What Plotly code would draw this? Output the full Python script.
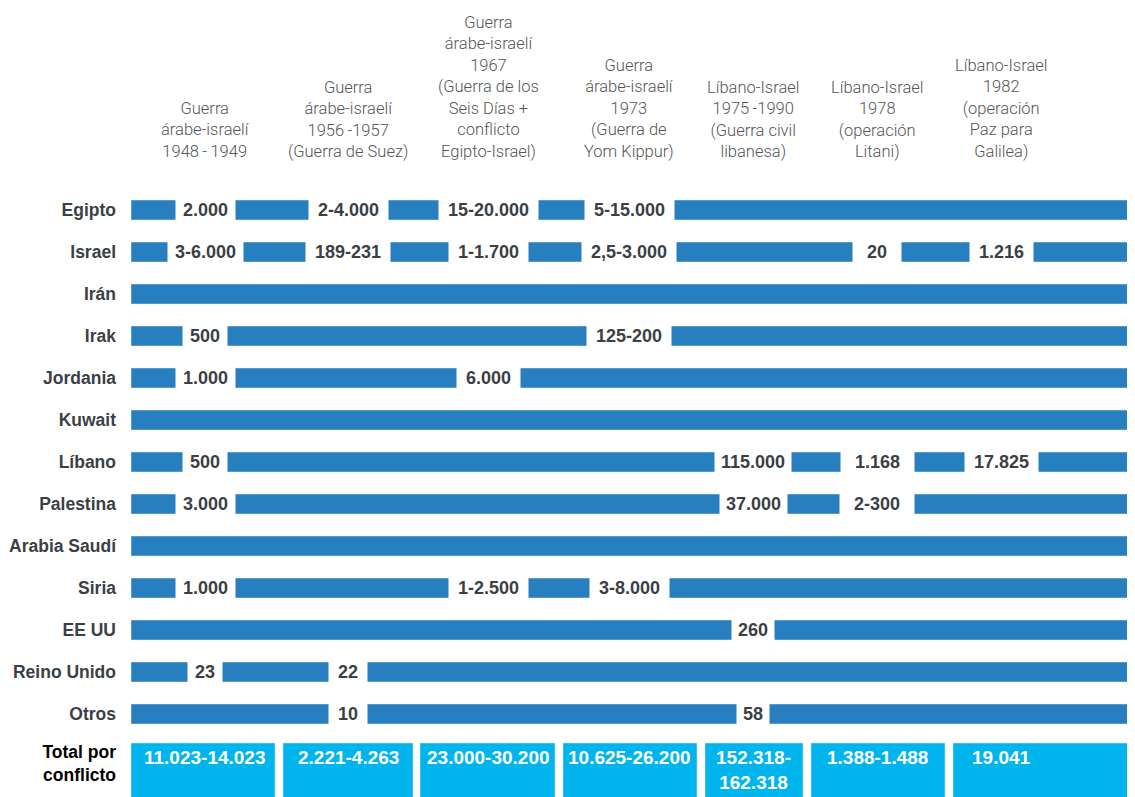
import plotly.graph_objects as go

# victims per country and conflict (text as printed in the source table)
countries = ["Egipto", "Israel", "Irán", "Irak", "Jordania", "Kuwait", "Líbano",
             "Palestina", "Arabia Saudí", "Siria", "EE UU", "Reino Unido", "Otros"]

conflicts = [
    "Guerra<br>árabe-israelí<br>1948\u2009-\u20091949",
    "Guerra<br>árabe-israelí<br>1956\u2009-1957<br>(Guerra de Suez)",
    "Guerra<br>árabe-israelí<br>1967<br>(Guerra de los<br>Seis Días +<br>conflicto<br>Egipto-Israel)",
    "Guerra<br>árabe-israelí<br>1973<br>(Guerra de<br>Yom Kippur)",
    "Líbano-Israel<br>1975\u2009-1990<br>(Guerra civil<br>libanesa)",
    "Líbano-Israel<br>1978<br>(operación<br>Litani)",
    "Líbano-Israel<br>1982<br>(operación<br>Paz para<br>Galilea)",
]

war_1948 = ["2.000", "3-6.000", "", "500", "1.000", "", "500", "3.000", "", "1.000", "", "23", ""]
war_1956 = ["2-4.000", "189-231", "", "", "", "", "", "", "", "", "", "22", "10"]
war_1967 = ["15-20.000", "1-1.700", "", "", "6.000", "", "", "", "", "1-2.500", "", "", ""]
war_1973 = ["5-15.000", "2,5-3.000", "", "125-200", "", "", "", "", "", "3-8.000", "", "", ""]
war_1975 = ["", "", "", "", "", "", "115.000", "37.000", "", "", "260", "", "58"]
war_1978 = ["", "20", "", "", "", "", "1.168", "2-300", "", "", "", "", ""]
war_1982 = ["", "1.216", "", "", "", "", "17.825", "", "", "", "", "", ""]

totals = ["11.023-14.023", "2.221-4.263", "23.000-30.200", "10.625-26.200",
          "152.318-<br>162.318", "1.388-1.488", "19.041"]

columns = [war_1948, war_1956, war_1967, war_1973, war_1975, war_1978, war_1982]

# layout geometry (x in px from the left edge of the table)
col_center = [74, 217, 357, 498, 622, 746, 870]
col_edges = [(0, 144), (152, 282), (289, 424), (432, 566), (574, 672), (680, 814), (822, 1010)]
col_pad = [7, 9, 9, 9, 6, 14, 9]

BLUE = "#277fbf"
CYAN = "#00b5ee"
DARK = "#3b3f46"
FONT = "Liberation Sans"

rows = list(range(len(countries)))
total_y = 13.4

fig = go.Figure()
fig.add_trace(go.Bar(
    y=rows, x=[1010] * len(rows), base=0, orientation="h", width=0.476,
    marker_color=BLUE, hoverinfo="skip", showlegend=False,
))
fig.add_trace(go.Bar(
    y=[total_y] * len(totals), x=[r - l for l, r in col_edges], base=[l for l, r in col_edges],
    orientation="h", width=1.42, marker_color=CYAN, hoverinfo="skip", showlegend=False,
))

annotations = []
for j, col in enumerate(columns):
    for i, txt in enumerate(col):
        if txt:
            annotations.append(dict(
                x=col_center[j], y=i, text=txt, showarrow=False,
                bgcolor="white", borderpad=col_pad[j],
                font=dict(family=FONT, size=18, color=DARK, weight="bold"),
            ))
    annotations.append(dict(
        x=col_center[j], y=-1.15, yanchor="bottom", text=conflicts[j], showarrow=False,
        borderpad=0,
        font=dict(family="Roboto", size=16.5, color="#555555", weight=300),
    ))
    annotations.append(dict(
        x=col_center[j], y=12.74, yanchor="top", text=totals[j], showarrow=False,
        font=dict(family=FONT, size=19, color="white", weight="bold"),
    ))

# the page body adds an 8px offset, so the figure is 8px smaller
fig.update_layout(
    width=1127, height=789,
    margin=dict(l=123, r=0, t=0, b=0),
    plot_bgcolor="white", paper_bgcolor="white",
    barmode="overlay",
    annotations=annotations,
    xaxis=dict(range=[0, 1004], visible=False, fixedrange=True),
    yaxis=dict(
        range=[13.976, -4.81], showgrid=False, zeroline=False, showline=False,
        tickvals=rows + [13.17],
        ticktext=countries + ["<span style='color:black'>Total por<br>conflicto</span>"],
        ticks="", ticklabelstandoff=14,
        tickfont=dict(family=FONT, size=17.5, color=DARK, weight="bold"),
    ),
)

fig.write_html("out.html")
